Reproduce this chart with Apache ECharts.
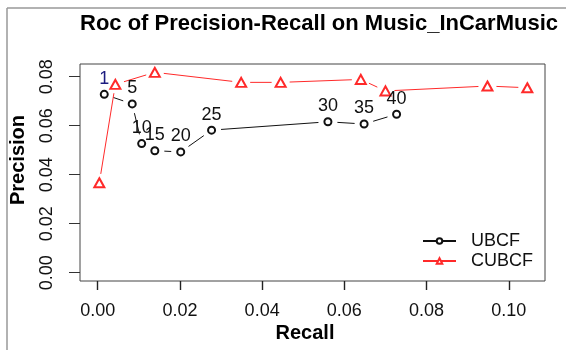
<!DOCTYPE html>
<html>
<head>
<meta charset="utf-8">
<script src="https://cdn.jsdelivr.net/npm/echarts@6/dist/echarts.min.js"></script>
<style>html,body{margin:0;padding:0;background:#fff;}#c{width:566px;height:350px;}</style>
</head>
<body>
<div id="c"></div>
<script>
const recallUBCF = [0.0016, 0.0084, 0.0107, 0.0139, 0.0202, 0.0277, 0.0560, 0.0648, 0.0727];
const precisionUBCF = [0.0728, 0.0689, 0.0527, 0.0498, 0.0493, 0.0582, 0.0616, 0.0607, 0.0647];
const labelsUBCF = ['1', '5', '10', '15', '20', '25', '30', '35', '40'];
const recallCUBCF = [0.0004, 0.0043, 0.0139, 0.0349, 0.0445, 0.0640, 0.0700, 0.0948, 0.1045];
const precisionCUBCF = [0.0367, 0.0769, 0.0818, 0.0777, 0.0777, 0.0789, 0.0742, 0.0762, 0.0755];
const xTicks = [0, 0.02, 0.04, 0.06, 0.08, 0.10];
const yTicks = [0, 0.02, 0.04, 0.06, 0.08];

const FONT = "'Liberation Sans', Arial, sans-serif";
const RED = '#ff2a2a';
const BLACK = '#111';

const ubcf = recallUBCF.map((x, i) => [x, precisionUBCF[i]]);
const cubcf = recallCUBCF.map((x, i) => [x, precisionCUBCF[i]]);
const ubcfLabeled = recallUBCF.map((x, i) => ({value: [x, precisionUBCF[i]], name: labelsUBCF[i],
  label: i === 0 ? {color: '#1c1c80'} : {}}));

// segments between consecutive points (R type="b": lines with gaps around points)
function segments(pts) {
  return pts.slice(0, -1).map((p, i) => [p[0], p[1], pts[i + 1][0], pts[i + 1][1]]);
}
function gapRenderer(color, gap) {
  return function (params, api) {
    const a = api.coord([api.value(0), api.value(1)]);
    const b = api.coord([api.value(2), api.value(3)]);
    const dx = b[0] - a[0], dy = b[1] - a[1];
    const len = Math.sqrt(dx * dx + dy * dy);
    if (len <= 2 * gap) return null;
    const ux = dx / len, uy = dy / len;
    return {
      type: 'line',
      shape: {x1: a[0] + ux * gap, y1: a[1] + uy * gap, x2: b[0] - ux * gap, y2: b[1] - uy * gap},
      style: {stroke: color, lineWidth: 1}
    };
  };
}

const chart = echarts.init(document.getElementById('c'), null, {renderer: 'canvas'});
chart.setOption({
  animation: false,
  backgroundColor: '#fff',
  title: {
    text: 'Roc of Precision-Recall on Music_InCarMusic',
    left: 80, top: 13, padding: 0,
    textStyle: {fontFamily: FONT, fontWeight: 'bold', fontSize: 22, color: '#000'}
  },
  grid: {left: 80, top: 64, right: 21, bottom: 69, show: true, borderColor: '#444', borderWidth: 1, backgroundColor: 'transparent'},
  xAxis: {
    type: 'value', min: -0.0043, max: 0.1088,
    splitLine: {show: false},
    axisLine: {show: false, onZero: false},
    axisTick: {show: true, inside: false, length: 9, customValues: xTicks, lineStyle: {color: '#222', width: 1.4}},
    axisLabel: {customValues: xTicks, margin: 21, fontFamily: FONT, fontSize: 18, color: '#111',
      formatter: v => v.toFixed(2)}
  },
  yAxis: {
    type: 'value', min: -0.0034, max: 0.0852,
    splitLine: {show: false},
    axisLine: {show: false, onZero: false},
    axisTick: {show: true, inside: false, length: 11, customValues: yTicks, lineStyle: {color: '#333', width: 1}},
    axisLabel: {customValues: yTicks, margin: 24, rotate: 90, fontFamily: FONT, fontSize: 18, color: '#111',
      formatter: v => v.toFixed(2)}
  },
  legend: {
    data: ['UBCF', 'CUBCF'],
    orient: 'vertical', left: 422, top: 232,
    itemWidth: 33, itemHeight: 7, itemGap: 2, padding: 0,
    itemStyle: {borderWidth: 1},
    textStyle: {fontFamily: FONT, fontSize: 18, color: '#111', padding: [0, 0, 0, 10]}
  },
  graphic: [
    {type: 'line', shape: {x1: 7, y1: 8, x2: 566, y2: 8}, style: {stroke: '#999', lineWidth: 1.5}},
    {type: 'line', shape: {x1: 7, y1: 8, x2: 7, y2: 350}, style: {stroke: '#999', lineWidth: 1.5}},
    {type: 'text', x: 305, y: 333, style: {text: 'Recall', font: 'bold 20px ' + FONT, fill: '#000', textAlign: 'center', textVerticalAlign: 'middle'}},
    {type: 'text', x: 18, y: 160, rotation: Math.PI / 2, style: {text: 'Precision', font: 'bold 20px ' + FONT, fill: '#000', textAlign: 'center', textVerticalAlign: 'middle'}}
  ],
  series: [
    // legend carriers
    {name: 'UBCF', type: 'line', data: [], symbol: 'emptyCircle', symbolSize: 7,
      lineStyle: {color: BLACK, width: 1}, itemStyle: {color: BLACK, borderWidth: 1}},
    {name: 'CUBCF', type: 'line', data: [], symbol: 'emptyTriangle', symbolSize: [10, 9],
      lineStyle: {color: RED, width: 1}, itemStyle: {color: RED, borderWidth: 1}},
    // lines with gaps
    {type: 'custom', data: segments(ubcf), encode: {x: [0, 2], y: [1, 3]}, silent: true,
      renderItem: gapRenderer(BLACK, 9.5)},
    {type: 'custom', data: segments(cubcf), encode: {x: [0, 2], y: [1, 3]}, silent: true,
      renderItem: gapRenderer(RED, 9)},
    // markers
    {type: 'scatter', data: ubcfLabeled, symbol: 'emptyCircle', symbolSize: 7, silent: true,
      itemStyle: {color: BLACK, borderColor: BLACK, borderWidth: 1, opacity: 1},
      label: {show: true, position: 'top', distance: 2, formatter: p => p.name, fontFamily: FONT, fontSize: 18, color: '#111'}},
    {type: 'scatter', data: cubcf, symbol: 'emptyTriangle', symbolSize: [10, 9], silent: true,
      itemStyle: {color: RED, borderColor: RED, borderWidth: 1, opacity: 1}}
  ]
});
</script>
</body>
</html>
